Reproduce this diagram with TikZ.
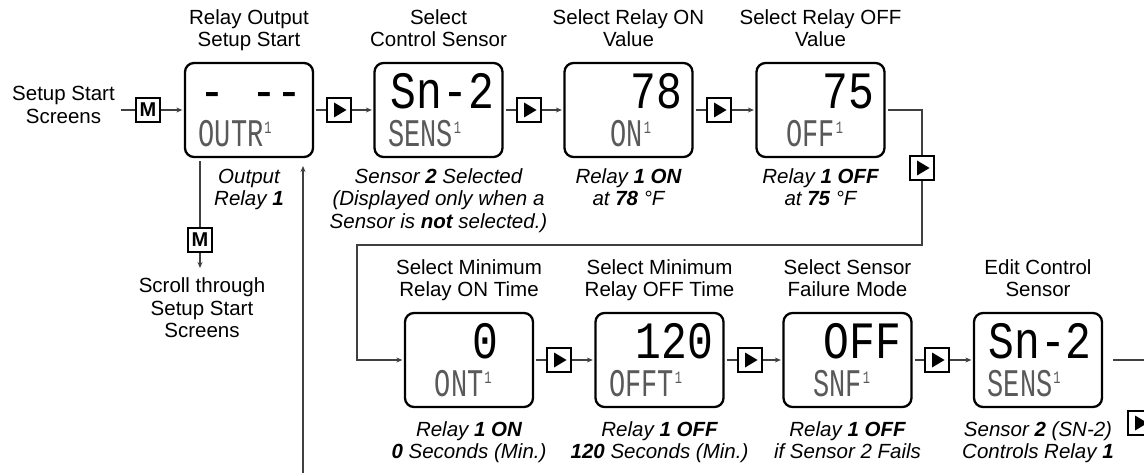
\documentclass[tikz,border=0pt]{standalone}
\usepackage{fontspec}
\setmainfont{Liberation Sans}
\newfontfamily\lcdfont{Liberation Mono}
\usepackage{graphicx}
\usetikzlibrary{calc,arrows.meta}

\newcommand{\bigdisp}[1]{\scalebox{1}[1.22]{\lcdfont\fontsize{43}{43}\selectfont #1}}
\newcommand{\lowlbl}[1]{\scalebox{1}[1.45]{\lcdfont\fontsize{27}{27}\selectfont #1\hspace{1pt}\raisebox{9pt}{\fontsize{12}{12}\selectfont 1}}}

\begin{document}
\begin{tikzpicture}[x=1pt,y=-1pt,
  lcdbox/.style={draw=black, line width=2.3pt, rounded corners=9pt, minimum width=128pt, minimum height=94pt, inner sep=0pt},
  btn/.style={draw=black, line width=2.4pt, minimum size=24pt, inner sep=0pt, fill=white},
  playbtn/.style={btn, path picture={\fill[black] ($(path picture bounding box.center)+(-5,-7.5)$) -- ++(0,15) -- ++(12.5,-7.5) -- cycle;}},
  mbtn/.style={btn, font=\bfseries\fontsize{20}{20}\selectfont},
  captxt/.style={align=center, font=\fontsize{20.5}{22.5}\selectfont, inner sep=0pt},
  notetxt/.style={align=center, font=\fontsize{20.5}{22.5}\selectfont\itshape, inner sep=0pt},
  bigtxt/.style={anchor=base east, inner sep=0pt},
  lowtxt/.style={anchor=base east, inner sep=0pt, text=black!65},
  conn/.style={draw=black!75, line width=1.3pt},
  arr/.style={conn, -{Stealth[length=6pt,width=5pt]}}
]
\useasboundingbox (0,0) rectangle (1144,473);

% display boxes
\node[lcdbox] (b1) at (249,110) {};
\node[lcdbox] (b2) at (438.5,110) {};
\node[lcdbox] (b3) at (628.5,110) {};
\node[lcdbox] (b4) at (820.5,110) {};
\node[lcdbox] (b5) at (469,360) {};
\node[lcdbox] (b6) at (659.5,360) {};
\node[lcdbox] (b7) at (847.5,360) {};
\node[lcdbox] (b8) at (1038,360) {};

% big display texts
\node[bigtxt] (d1) at ($(b1.north west)+(119,47)$) {\bigdisp{- --}};
\node[bigtxt] (d2) at ($(b2.north west)+(121,47)$) {\bigdisp{Sn-2}};
\node[bigtxt] (d3) at ($(b3.north west)+(119,47)$) {\bigdisp{78}};
\node[bigtxt] (d4) at ($(b4.north west)+(119,47)$) {\bigdisp{75}};
\node[bigtxt] (d5) at ($(b5.north west)+(95,47)$) {\bigdisp{0}};
\node[bigtxt] (d6) at ($(b6.north west)+(119,47)$) {\bigdisp{120}};
\node[bigtxt] (d7) at ($(b7.north west)+(119,47)$) {\bigdisp{OFF}};
\node[bigtxt] (d8) at ($(b8.north west)+(119,47)$) {\bigdisp{Sn-2}};

% small display labels
\node[lowtxt] (l1) at ($(b1.north west)+(88,85)$) {\lowlbl{OUTR}};
\node[lowtxt] (l2) at ($(b2.north west)+(88,85)$) {\lowlbl{SENS}};
\node[lowtxt] (l3) at ($(b3.north west)+(88,85)$) {\lowlbl{ON}};
\node[lowtxt] (l4) at ($(b4.north west)+(88,85)$) {\lowlbl{OFF}};
\node[lowtxt] (l5) at ($(b5.north west)+(88,85)$) {\lowlbl{ONT}};
\node[lowtxt] (l6) at ($(b6.north west)+(88,85)$) {\lowlbl{OFFT}};
\node[lowtxt] (l7) at ($(b7.north west)+(88,85)$) {\lowlbl{SNF}};
\node[lowtxt] (l8) at ($(b8.north west)+(88,85)$) {\lowlbl{SENS}};

% captions above
\node[captxt, anchor=south] (t1) at ($(b1.north)+(0,-8)$) {Relay Output\\Setup Start\strut};
\node[captxt, anchor=south] (t2) at ($(b2.north)+(0,-8)$) {Select\\Control Sensor\strut};
\node[captxt, anchor=south] (t3) at ($(b3.north)+(0,-8)$) {Select Relay ON\\Value\strut};
\node[captxt, anchor=south] (t4) at ($(b4.north)+(0,-8)$) {Select Relay OFF\\Value\strut};
\node[captxt, anchor=south] (t5) at ($(b5.north)+(0,-8)$) {Select Minimum\\Relay ON Time\strut};
\node[captxt, anchor=south] (t6) at ($(b6.north)+(0,-8)$) {Select Minimum\\Relay OFF Time\strut};
\node[captxt, anchor=south] (t7) at ($(b7.north)+(0,-8)$) {Select Sensor\\Failure Mode\strut};
\node[captxt, anchor=south] (t8) at ($(b8.north)+(0,-8)$) {Edit Control\\Sensor\strut};

% notes below
\node[notetxt, anchor=north] (n1) at ($(b1.south)+(0,9)$) {\strut Output\\Relay \textbf{1}};
\node[notetxt, anchor=north] (n2) at ($(b2.south)+(0,9)$) {\strut Sensor \textbf{2} Selected\\(Displayed only when a\\Sensor is \textbf{not} selected.)};
\node[notetxt, anchor=north] (n3) at ($(b3.south)+(0,9)$) {\strut Relay \textbf{1 ON}\\at \textbf{78} °F};
\node[notetxt, anchor=north] (n4) at ($(b4.south)+(0,9)$) {\strut Relay \textbf{1 OFF}\\at \textbf{75} °F};
\node[notetxt, anchor=north] (n5) at ($(b5.south)+(0,12)$) {\strut Relay \textbf{1 ON}\\\textbf{0} Seconds (Min.)};
\node[notetxt, anchor=north] (n6) at ($(b6.south)+(0,12)$) {\strut Relay \textbf{1 OFF}\\\textbf{120} Seconds (Min.)};
\node[notetxt, anchor=north] (n7) at ($(b7.south)+(0,12)$) {\strut Relay \textbf{1 OFF}\\if Sensor 2 Fails};
\node[notetxt, anchor=north] (n8) at ($(b8.south)+(0,12)$) {\strut Sensor \textbf{2} (SN-2)\\Controls Relay \textbf{1}};

% left side texts
\node[captxt, anchor=north] (setup) at (63.5,85) {\strut Setup Start\\Screens};
\node[captxt, anchor=north] (scroll) at (202,277) {\strut Scroll through\\Setup Start\\Screens};

% buttons
\node[mbtn] (m1) at (148,110) {M};
\node[mbtn] (m2) at (200,240) {M};
\node[playbtn] (p1) at (339,110) {};
\node[playbtn] (p2) at (529,110) {};
\node[playbtn] (p3) at (719,110) {};
\node[playbtn] (p4) at (922,168) {};
\node[playbtn] (p5) at (559,360) {};
\node[playbtn] (p6) at (750,360) {};
\node[playbtn] (p7) at (937,360) {};
\node[playbtn] (p8) at (1140,423) {};

% helper coordinates
\coordinate (c1) at (922,245);
\coordinate (c2) at (357,245);
\coordinate (re) at (1150,360);
\coordinate (ub) at (303,480);
\coordinate (ut) at (303,166);

% connectors
\draw[conn, shorten <=6pt] (setup.east |- m1) -- (m1);
\draw[arr, shorten >=1.5pt] (m1) -- (b1);
\draw[conn, shorten <=2pt] (b1) -- (p1);
\draw[arr, shorten >=1.5pt] (p1) -- (b2);
\draw[conn, shorten <=2pt] (b2) -- (p2);
\draw[arr, shorten >=1.5pt] (p2) -- (b3);
\draw[conn, shorten <=2pt] (b3) -- (p3);
\draw[arr, shorten >=1.5pt] (p3) -- (b4);
\draw[conn, shorten <=2pt] (b4.east) -| (p4);
\draw[arr, shorten >=1.5pt] (p4) -- (c1) -- (c2) |- (b5);
\draw[conn, shorten <=2pt] (b5) -- (p5);
\draw[arr, shorten >=1.5pt] (p5) -- (b6);
\draw[conn, shorten <=2pt] (b6) -- (p6);
\draw[arr, shorten >=1.5pt] (p6) -- (b7);
\draw[conn, shorten <=2pt] (b7) -- (p7);
\draw[arr, shorten >=1.5pt] (p7) -- (b8);
\draw[conn, shorten <=10pt] (b8) -- (re);
\draw[conn, shorten <=3pt] (b1.south -| m2) -- (m2);
\draw[arr, shorten >=9pt] (m2) -- (m2 |- scroll.north);
\draw[arr] (ub) -- (ut);
\end{tikzpicture}
\end{document}
